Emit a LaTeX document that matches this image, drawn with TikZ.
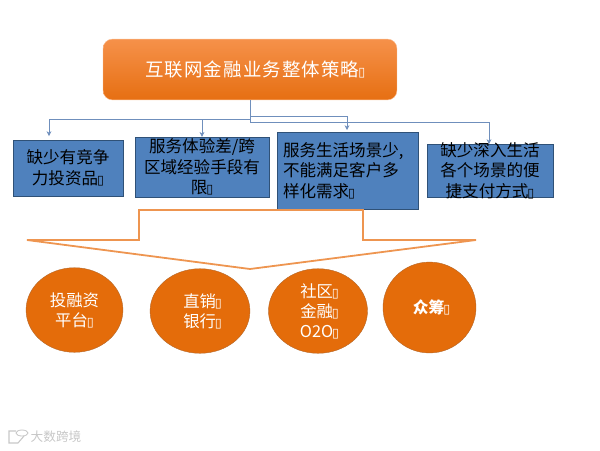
\documentclass[tikz,border=0pt]{standalone}
\usepackage{fontspec}
\newfontfamily\cjk{Noto Sans CJK SC}
\newfontfamily\cjkwide[LetterSpace=6]{Noto Sans CJK SC}
\newfontfamily\tofufont{DejaVu Sans}
\newcommand{\tofu}{{\tofufont\fontsize{12pt}{12pt}\selectfont\hspace{-1pt}▯}}
\usepackage{xcolor}
\usepackage{tikz}
\usetikzlibrary{arrows.meta,positioning,shapes.geometric}
\definecolor{boxblue}{HTML}{4F81BD}
\definecolor{boxedge}{HTML}{2F5177}
\definecolor{linkblue}{HTML}{6F8FBC}
\definecolor{roundorange}{HTML}{E46C0A}
\definecolor{roundedge}{HTML}{B5682A}
\definecolor{outlineorange}{HTML}{EE9550}
\definecolor{titletop}{HTML}{F6914A}
\definecolor{titlebottom}{HTML}{E66F12}
\tikzset{
  titlebox/.style={draw=titletop!60, rounded corners=9pt, top color=titletop, bottom color=titlebottom, text=white, minimum width=9.8cm, minimum height=2.03cm, font=\cjkwide\fontsize{17.5pt}{20pt}\selectfont, inner sep=0pt},
  gapbox/.style={draw=boxedge, fill=boxblue, text=black, align=center, inner sep=0pt, font=\cjk\fontsize{15.7pt}{19.5pt}\selectfont},
  linkarrow/.style={-{Stealth[length=1.6mm,width=1.6mm]}, draw=linkblue, semithick},
  linkline/.style={draw=linkblue, semithick},
  roundnode/.style={ellipse, draw=roundedge, fill=roundorange, text=white, align=center, inner sep=0pt, font=\cjk\fontsize{15.5pt}{19pt}\selectfont},
  markfaint/.style={text=black!22, font=\cjk\fontsize{12pt}{12pt}\selectfont, inner sep=0pt},
}
\begin{document}
\begin{tikzpicture}[x=0.0333333cm,y=-0.0333333cm]
  \useasboundingbox (0,0) rectangle (600,450);

  % Top: strategy box
  \node[titlebox] (strategy) at (250,69.5) {\hspace*{10pt}互联网金融业务整体策略\tofu};

  % Four gaps
  \node[gapbox, minimum width=3.67cm, minimum height=1.87cm] (gap_a) at (68,168) {缺少有竞争\\力投资品\tofu};
  \node[gapbox, minimum width=4.47cm, minimum height=2cm, inner ysep=-2pt] (gap_b) at (202,167) {服务体验差/跨\\区域经验手段有\\限\tofu};
  \node[gapbox, minimum width=4.7cm, minimum height=2.57cm, text width=4.3cm, align=left] (gap_c) at (347.5,170.5) {服务生活场景少,\\不能满足客户多\\样化需求\tofu};
  \node[gapbox, minimum width=4.2cm, minimum height=1.77cm, inner ysep=-6pt] (gap_d) at (490,170.5) {缺少深入生活\\各个场景的便\\捷支付方式\tofu};

  % Connectors
  \coordinate (stem) at (250,122.5);
  \coordinate (arrow_a) at (49,136);
  \coordinate (arrow_c) at (347,130);
  \draw[linkline] (strategy.south -| stem) -- (stem);
  \draw[linkarrow] (250,119) -| (arrow_a);
  \draw[linkarrow] (202,119) -- (gap_b.north -| 202,0);
  \draw[linkarrow] (250,116.5) -| (arrow_c);
  \draw[linkarrow] (stem) -| (489,144);

  % Big outline arrow
  \draw[draw=outlineorange, line width=1.7pt, fill=white] (27,240) -- (139,240) -- (139,210) -- (363,210) -- (363,240) -- (476,240) -- (250,269) -- cycle;

  % Channels
  \node[roundnode, minimum width=3.23cm, minimum height=2.82cm] (invest) at (74.5,310) {投融资\\平台\tofu};
  \node[roundnode, minimum width=3.33cm, minimum height=2.82cm] (bank) at (200,311) {\hspace*{5pt}直销\tofu\\\hspace*{5pt}银行\tofu};
  \node[roundnode, minimum width=3.3cm, minimum height=2.82cm] (community) at (318,311) {\hspace*{3pt}社区\tofu\\\hspace*{3pt}金融\tofu\\\hspace*{3pt}O2O\tofu};
  \node[roundnode, minimum width=3.1cm, minimum height=3.03cm, font=\cjk\bfseries\fontsize{15pt}{16pt}\selectfont] (crowd) at (429.5,307.5) {\hspace*{4pt}众筹\tofu};

  % Faint mark, bottom left
  \node[markfaint] (marktext) at (56,437) {大数跨境};
  \draw[black!22, line width=1pt] (16,431) -- (9,431) -- (9,443) -- (18,443) -- (24,436);
  \draw[black!22, line width=0.8pt] (22,433) ellipse (6 and 3);
\end{tikzpicture}
\end{document}
